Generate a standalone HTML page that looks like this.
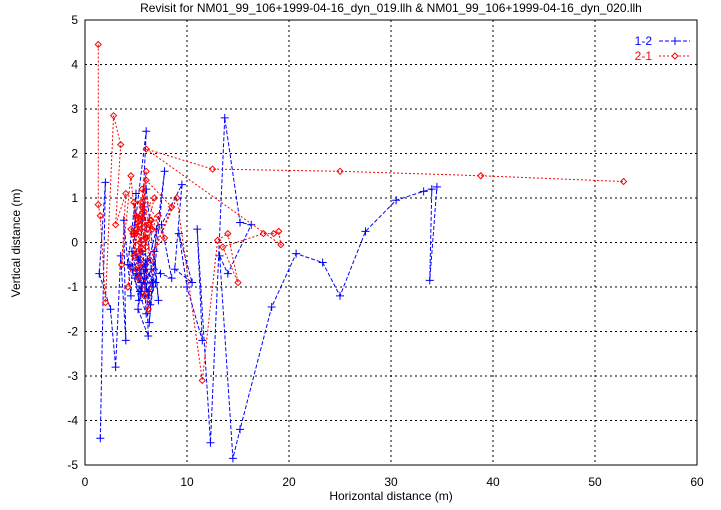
<!DOCTYPE html>
<html><head><meta charset="utf-8"><style>
body{margin:0;background:#fff}
svg text{font-family:"Liberation Sans",sans-serif;font-size:12px;fill:#000}
</style></head><body>
<svg id="chart" width="721" height="505" xmlns="http://www.w3.org/2000/svg">
<text x="391" y="12" text-anchor="middle">Revisit for NM01_99_106+1999-04-16_dyn_019.llh &amp; NM01_99_106+1999-04-16_dyn_020.llh</text>
<text x="391" y="500" text-anchor="middle">Horizontal distance (m)</text>
<text transform="translate(20,243) rotate(-90)" text-anchor="middle">Vertical distance (m)</text>
<g id="grid"></g>
<g id="series"></g>
<rect x="85" y="20" width="612" height="445" fill="none" stroke="#000" stroke-width="1"/>
<g>
<text x="652" y="45" text-anchor="end" style="fill:#00f">1-2</text>
<line x1="659" y1="41" x2="690" y2="41" stroke="#00f" stroke-dasharray="4,2"/>
<path d="M671 41h8M675 37v8" stroke="#00f"/>
<text x="652" y="60" text-anchor="end" style="fill:#f00">2-1</text>
<line x1="659" y1="56" x2="690" y2="56" stroke="#f00" stroke-dasharray="2,2"/>
<path d="M675 53l3 3l-3 3l-3-3z" fill="#fff" stroke="#f00"/>
</g>
</svg>
<script>
const xTicks=[0,10,20,30,40,50,60];
const yTicks=[-5,-4,-3,-2,-1,0,1,2,3,4,5];
const blueX=[1.5,2,1.4,2.5,3,3.5,4,3.8,4.5,5,4.2,5.5,4.8,6,5.2,6.2,5.8,6.5,5.5,7,6.3,7.8,6.8,7.2,6,5.1,5.6,6.1,4.9,5.3,6.6,5.9,4.6,5.4,6.4,5.7,6.9,5.0,6.2,5.5,4.4,6.0,5.8,6.7,5.2,4.7,6.3,5.6,7.4,8.5,7.5,9.5,8.8,10.5,9.2,10,11.5,11,12.3,13.7,15.2,16.3,14,13.2,14.5,15.2,18.3,20.7,23.3,25,27.5,30.5,33.2,34,33.8,34.5];
const blueY=[-4.4,1.35,-0.7,-1.5,-2.8,-0.3,-2.2,0.5,-1.2,1.1,-0.5,-0.9,0.2,2.5,-1.5,-2.1,0.8,-0.6,-1.1,0.3,-1.8,1.6,-0.2,-1.3,1.2,-0.7,-1.0,-0.4,-0.8,-1.3,-0.9,-0.5,-0.2,-1.1,-1.4,-0.6,-0.9,-0.3,-1.2,-0.7,-0.5,-1.6,-0.8,-1.0,-0.4,-0.6,-1.1,-0.2,-0.7,-0.8,0.4,1.3,-0.6,-0.9,0.2,-1.0,-2.2,0.3,-4.5,2.8,0.45,0.4,-0.7,-0.3,-4.85,-4.2,-1.45,-0.25,-0.45,-1.2,0.25,0.95,1.15,1.2,-0.85,1.25];
const redX=[1.3,1.3,1.5,2,2.8,3.5,3,4,3.6,4.5,5,4.2,5.5,4.8,6,5.2,6.5,5.8,4.5,6.8,5.5,7.2,6.2,4.8,5.3,5.9,5.0,6.1,5.6,4.7,6.4,5.4,5.8,5.1,6.0,5.5,4.9,6.3,5.7,5.2,6.6,5.4,6.0,5.6,7.8,5,6,8.5,6.4,9,11.5,13,14,15,13.5,17.5,18.5,19,19.2,6,12.5,25,38.8,52.8];
const redY=[4.45,0.85,0.6,-1.35,2.85,2.2,0.4,1.1,-0.5,1.5,0.2,-1.0,0.9,-0.3,1.6,-0.8,0.5,-1.2,0.3,1.0,-0.2,0.6,-1.5,0.9,0.4,0.1,0.6,0.3,0.8,0.2,0.5,0.0,0.7,0.3,-0.1,0.5,0.2,0.4,0.9,-0.2,0.3,0.6,0.1,1.2,0.1,-0.6,1.4,0.8,-0.4,1.0,-3.1,0.05,0.2,-0.9,-0.1,0.2,0.2,0.25,-0.05,2.1,1.65,1.6,1.5,1.37];
const X0=85,X1=697,Y0=20,Y1=465;
function sx(v){return X0+(v-0)/(60-0)*(X1-X0);}
function sy(v){return Y1-(v+5)/10*(Y1-Y0);}
const NS='http://www.w3.org/2000/svg';
const grid=document.getElementById('grid'),svg=document.getElementById('chart'),ser=document.getElementById('series');
function mk(t,a,p){const e=document.createElementNS(NS,t);for(const k in a)e.setAttribute(k,a[k]);p.appendChild(e);return e;}
xTicks.forEach(t=>{const x=sx(t);
 if(t>0&&t<60){const l=mk('line',{x1:x,y1:Y0,x2:x,y2:Y1,stroke:'#000','stroke-dasharray':'2,3'},grid);
 
 }
 const tx=mk('text',{x:x,y:486,'text-anchor':'middle'},svg);tx.textContent=t;
 
 });
yTicks.forEach(t=>{const y=sy(t);
 if(t>-5&&t<5){const l=mk('line',{x1:X0,y1:y,x2:X1,y2:y,stroke:'#000','stroke-dasharray':'2,3'},grid);
 
 }
 const tx=mk('text',{x:78,y:y+4,'text-anchor':'end'},svg);tx.textContent=t;
 
 });
function draw(xs,ys,col,dash,kind,name){
 const pts=xs.map((v,i)=>sx(v)+','+sy(ys[i])).join(' ');
 const pl=mk('polyline',{points:pts,fill:'none',stroke:col,'stroke-dasharray':dash},ser);
 
 
 xs.forEach((v,i)=>{const x=sx(v),y=sy(ys[i]);let m;
  if(kind==='plus')m=mk('path',{d:`M${x-4} ${y}h8M${x} ${y-4}v8`,stroke:col},ser);
  else m=mk('path',{d:`M${x} ${y-3}l3 3l-3 3l-3-3z`,fill:'none',stroke:col},ser);
  
  });
}
draw(blueX,blueY,'#00f','4,2','plus','series-1-2');
draw(redX,redY,'#f00','2,2','diamond','series-2-1');
</script>
</body></html>
